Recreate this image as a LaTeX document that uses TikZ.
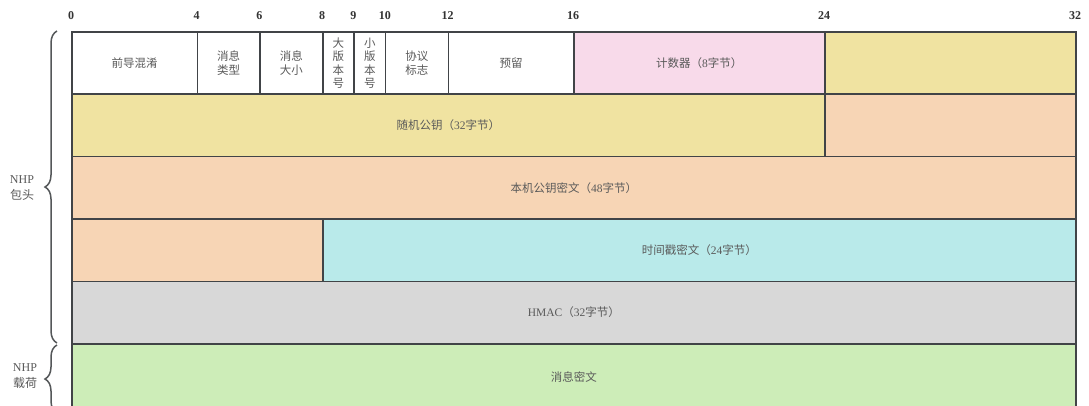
\documentclass[tikz,border=0pt]{standalone}
\usepackage{fontspec}
\setmainfont{Liberation Serif}
\newfontfamily\cjk{Noto Sans CJK SC}
\usetikzlibrary{decorations.pathreplacing}
\definecolor{bordc}{HTML}{414447}
\definecolor{txtc}{HTML}{5A5A5A}
\definecolor{pinkc}{HTML}{F8DAEA}
\definecolor{yelc}{HTML}{F0E3A1}
\definecolor{peachc}{HTML}{F7D5B5}
\definecolor{cyanc}{HTML}{B9EAEA}
\definecolor{grayc}{HTML}{D8D8D8}
\definecolor{greenc}{HTML}{CDEDB8}
\tikzset{
  cell/.style={draw=bordc, line width=1.6pt, inner sep=0pt, anchor=north west,
    align=center, text=txtc, font=\fontsize{11.5}{13.5}\selectfont},
  tick/.style={text=black!80, font=\bfseries\fontsize{12}{13}\selectfont, inner sep=0pt},
  side/.style={text=txtc, align=center, font=\fontsize{12}{16}\selectfont, inner sep=0pt},
  brc/.style={draw=bordc!90, line width=1.5pt, decorate, decoration={brace, amplitude=12pt}}
}
\begin{document}
\begin{tikzpicture}[x=1pt, y=-1pt]
\clip (0,0) rectangle (1089,405);
\fill[white] (0,0) rectangle (1089,405);
% tick labels
\node[tick] (t0)  at (71,16) {0};
\node[tick] (t4)  at (196.5,16) {4};
\node[tick] (t6)  at (259.25,16) {6};
\node[tick] (t8)  at (322,16) {8};
\node[tick] (t9)  at (353.4,16) {9};
\node[tick] (t10) at (384.75,16) {10};
\node[tick] (t12) at (447.5,16) {12};
\node[tick] (t16) at (573,16) {16};
\node[tick] (t24) at (824,16) {24};
\node[tick] (t32) at (1075,16) {32};
% row 1
\node[cell, fill=white, minimum width=125.5pt, minimum height=62.4pt] (c1) at (71,31) {\cjk 前导混淆};
\node[cell, fill=white, minimum width=62.75pt, minimum height=62.4pt] (c2) at (196.5,31) {\cjk 消息\\\cjk 类型};
\node[cell, fill=white, minimum width=62.75pt, minimum height=62.4pt] (c3) at (259.25,31) {\cjk 消息\\\cjk 大小};
\node[cell, fill=white, minimum width=31.375pt, minimum height=62.4pt] (c4) at (322,31) {\cjk 大\\\cjk 版\\\cjk 本\\\cjk 号};
\node[cell, fill=white, minimum width=31.375pt, minimum height=62.4pt] (c5) at (353.375,31) {\cjk 小\\\cjk 版\\\cjk 本\\\cjk 号};
\node[cell, fill=white, minimum width=62.75pt, minimum height=62.4pt] (c6) at (384.75,31) {\cjk 协议\\\cjk 标志};
\node[cell, fill=white, minimum width=125.5pt, minimum height=62.4pt] (c7) at (447.5,31) {\cjk 预留};
\node[cell, fill=pinkc, minimum width=251pt, minimum height=62.4pt] (c8) at (573,31) {{\cjk 计数器（}8{\cjk 字节）}};
\node[cell, fill=yelc, minimum width=251pt, minimum height=62.4pt] (c9) at (824,31) {};
% row 2
\node[cell, fill=yelc, minimum width=753pt, minimum height=62.4pt] (r2a) at (71,93.4) {{\cjk 随机公钥（}32{\cjk 字节）}};
\node[cell, fill=peachc, minimum width=251pt, minimum height=62.4pt] (r2b) at (824,93.4) {};
% row 3
\node[cell, fill=peachc, minimum width=1004pt, minimum height=62.4pt] (r3) at (71,155.8) {{\cjk 本机公钥密文（}48{\cjk 字节）}};
% row 4
\node[cell, fill=peachc, minimum width=251pt, minimum height=62.4pt] (r4a) at (71,218.2) {};
\node[cell, fill=cyanc, minimum width=753pt, minimum height=62.4pt] (r4b) at (322,218.2) {{\cjk 时间戳密文（}24{\cjk 字节）}};
% row 5
\node[cell, fill=grayc, minimum width=1004pt, minimum height=62.4pt] (r5) at (71,280.6) {HMAC{\cjk （}32{\cjk 字节）}};
% row 6
\node[cell, fill=greenc, minimum width=1004pt, minimum height=70pt] (r6) at (71,343) {\raisebox{4pt}{\cjk 消息密文}};
% braces
\coordinate (b1s) at (57,343);
\coordinate (b1e) at (57,31);
\coordinate (b2s) at (57,413);
\coordinate (b2e) at (57,345);
\draw[brc] (b1s) -- (b1e);
\draw[brc] (b2s) -- (b2e);
\node[side] (l1) at (22,188) {NHP\\\cjk 包头};
\node[side] (l2) at (25,376) {NHP\\\cjk 载荷};
\end{tikzpicture}
\end{document}
